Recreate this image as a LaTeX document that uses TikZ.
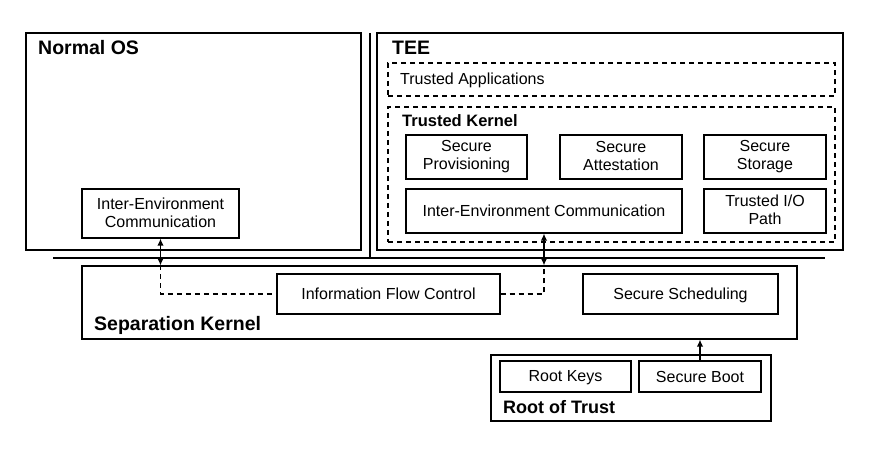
\documentclass[tikz,border=0pt]{standalone}
\usepackage{fontspec}
\setmainfont{Liberation Sans}
\usetikzlibrary{arrows.meta}
\newcommand\boxstrut{\rule[-2.5pt]{0pt}{16.5pt}}
\begin{document}
\begin{tikzpicture}[x=1pt,y=-1pt,
 box/.style={draw=black, line width=1.2pt, inner sep=0pt, align=center, font=\fontsize{16}{18}\selectfont,
   execute at begin node={\boxstrut}, execute at end node={\boxstrut}},
 dbox/.style={draw=black, line width=1.2pt, dash pattern=on 5pt off 4pt, inner sep=0pt},
 title/.style={font=\fontsize{19.5}{22}\selectfont\bfseries, anchor=base west, inner sep=0pt},
 subtitle/.style={font=\fontsize{16.5}{20}\selectfont\bfseries, anchor=base west, inner sep=0pt},
 label/.style={font=\fontsize{16}{18}\selectfont, anchor=base west, inner sep=0pt},
 sep/.style={draw=black, line width=1.3pt},
 link/.style={line width=1.4pt, {Latex[length=7pt,width=6.5pt]}-{Latex[length=7pt,width=6.5pt]}},
 uplink/.style={line width=1.4pt, -{Latex[length=7pt,width=6.5pt]}},
 dlink/.style={line width=1.2pt, dash pattern=on 5pt off 4pt}
]
\useasboundingbox (0,0) rectangle (893,454);

% environments
\node[box, minimum width=335pt, minimum height=217pt] (nos) at (193.5,141.5) {};
\node[box, minimum width=466pt, minimum height=217pt] (tee) at (610,141.5) {};
\node[title] (nostitle) at (38,55) {Normal OS};
\node[title] (teetitle) at (392,55) {TEE};

% separators
\coordinate (vtop) at (370,33);
\coordinate (vbot) at (370,258);
\coordinate (hl) at (53,258);
\coordinate (hr) at (825,258);
\draw[sep] (vtop) -- (vbot);
\draw[sep] (hl) -- (hr);

% Normal OS contents
\node[box, minimum width=157pt, minimum height=49pt] (niec) at (160.5,213.5) {Inter-Environment\\Communication};

% TEE contents
\node[dbox, minimum width=447pt, minimum height=33pt] (ta) at (611.5,79.5) {};
\node[label] (talabel) at (400,85) {Trusted Applications};
\node[dbox, minimum width=447pt, minimum height=135pt] (tk) at (611.5,174.5) {};
\node[subtitle] (tktitle) at (402,127) {Trusted Kernel};
\node[box, minimum width=121pt, minimum height=44pt] (sp) at (466.5,157) {Secure\\Provisioning};
\node[box, minimum width=122pt, minimum height=44pt] (sa) at (621,157) {Secure\\Attestation};
\node[box, minimum width=122pt, minimum height=44pt] (ss) at (765,157) {Secure\\Storage};
\node[box, minimum width=276pt, minimum height=44pt] (tiec) at (544,211) {Inter-Environment Communication};
\node[box, minimum width=122pt, minimum height=44pt] (tio) at (765,211) {Trusted I/O\\Path};

% Separation kernel
\node[box, minimum width=715pt, minimum height=73pt] (sk) at (439.5,302.5) {};
\node[title] (sktitle) at (94,330) {Separation Kernel};
\node[box, minimum width=223pt, minimum height=40pt] (ifc) at (388.5,294) {Information Flow Control};
\node[box, minimum width=195pt, minimum height=40pt] (sched) at (680.5,294) {Secure Scheduling};

% Root of trust
\node[box, minimum width=280pt, minimum height=66pt] (rot) at (631,388) {};
\node[box, minimum width=131pt, minimum height=31pt] (rk) at (565.5,376.5) {Root Keys};
\node[box, minimum width=122pt, minimum height=31pt] (sb) at (700,376.5) {Secure Boot};
\node[title, font=\fontsize{18}{21}\selectfont\bfseries] (rottitle) at (503,413) {Root of Trust};

% connectors
\coordinate (nA) at (niec.south |- sk.north);
\coordinate (tA) at (tiec.south |- sk.north);
\draw[link] (niec.south) -- (nA);
\draw[link] (tiec.south) -- (tA);
\draw[dlink] (nA) |- (ifc.west);
\draw[dlink] (ifc.east) -| (tA);
\draw[uplink] (sb.north) -- (sb.north |- sk.south);
\end{tikzpicture}
\end{document}
